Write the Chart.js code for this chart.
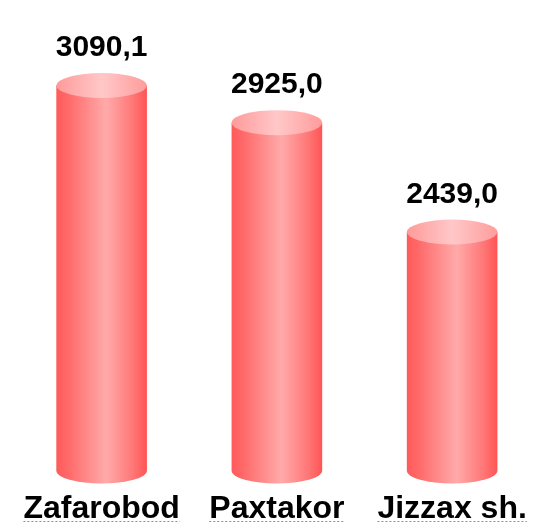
<!DOCTYPE html>
<html>
<head>
<meta charset="utf-8">
<script src="https://cdn.jsdelivr.net/npm/chart.js@4/dist/chart.umd.min.js"></script>
<style>
  html, body { margin: 0; padding: 0; background: #ffffff; }
  #wrap { width: 549px; height: 523px; position: relative; }
</style>
</head>
<body>
<div id="wrap"><canvas id="c"></canvas></div>
<script>
// ---- data ----
const categories = ['Zafarobod', 'Paxtakor', 'Jizzax sh.'];
const values = [3090.1, 2925.0, 2439.0];
const axisMin = 1377;
const axisMax = 3470;

const FONT = '"Liberation Sans", Arial, sans-serif';
const RY = 12.5;

function fmt(v) { return v.toFixed(1).replace('.', ','); }

const cylinderPlugin = {
  id: 'cylinders',
  afterDatasetsDraw(chart) {
    const ctx = chart.ctx;
    const meta = chart.getDatasetMeta(0);
    meta.data.forEach((bar, i) => {
      const p = bar.getProps(['x', 'y', 'base', 'width'], true);
      const x = p.x, y = p.y, base = p.base, rx = p.width / 2;
      const left = x - rx, right = x + rx;
      ctx.save();
      // body
      const g = ctx.createLinearGradient(left, 0, right, 0);
      g.addColorStop(0, '#ff5a5a');
      g.addColorStop(0.12, '#ff6868');
      g.addColorStop(0.55, '#ffaaaa');
      g.addColorStop(0.85, '#ff7676');
      g.addColorStop(1, '#ff5454');
      ctx.beginPath();
      ctx.moveTo(left, y);
      ctx.lineTo(left, base);
      ctx.ellipse(x, base, rx, RY, 0, Math.PI, 0, true);
      ctx.lineTo(right, y);
      ctx.closePath();
      ctx.fillStyle = g;
      ctx.fill();
      // top
      const g2 = ctx.createLinearGradient(left, 0, right, 0);
      g2.addColorStop(0, '#ff9a9a');
      g2.addColorStop(0.5, '#ffc8c8');
      g2.addColorStop(1, '#ff9c9c');
      ctx.beginPath();
      ctx.ellipse(x, y, rx, RY, 0, 0, Math.PI * 2);
      ctx.fillStyle = g2;
      ctx.fill();
      // value label
      ctx.fillStyle = '#000000';
      ctx.font = 'bold 30px ' + FONT;
      ctx.textAlign = 'center';
      ctx.textBaseline = 'alphabetic';
      ctx.fillText(fmt(values[i]), x, y - RY - 17);
      ctx.restore();
    });
  },
  afterDraw(chart) {
    // spell-check style dotted underline under category labels
    const ctx = chart.ctx;
    const sx = chart.scales.x;
    ctx.save();
    ctx.font = 'bold 32px ' + FONT;
    ctx.strokeStyle = '#ff6060';
    ctx.lineWidth = 1;
    ctx.setLineDash([2, 2]);
    categories.forEach((c, i) => {
      const cx = sx.getPixelForTick(i);
      const w = ctx.measureText(c).width;
      ctx.beginPath();
      ctx.moveTo(cx - w / 2, 521.5);
      ctx.lineTo(cx + w / 2, 521.5);
      ctx.stroke();
    });
    ctx.restore();
  }
};

new Chart(document.getElementById('c'), {
  type: 'bar',
  data: {
    labels: categories,
    datasets: [{
      data: values,
      base: axisMin,
      backgroundColor: 'rgba(0,0,0,0)',
      borderWidth: 0,
      barPercentage: 0.517,
      categoryPercentage: 1.0
    }]
  },
  options: {
    responsive: true,
    maintainAspectRatio: false,
    animation: false,
    layout: { padding: { left: 14, right: 7, top: 0, bottom: 0 } },
    plugins: { legend: { display: false }, tooltip: { enabled: false } },
    scales: {
      x: {
        grid: { display: false, drawTicks: false },
        border: { display: false },
        afterFit: (axis) => { axis.height = 52; },
        ticks: {
          color: '#000000',
          font: { family: FONT, size: 32, weight: 'bold', lineHeight: 1.05 },
          padding: 21,
          maxRotation: 0,
          autoSkip: false
        }
      },
      y: {
        display: false,
        min: axisMin,
        max: axisMax
      }
    }
  },
  plugins: [cylinderPlugin]
});
</script>
</body>
</html>
